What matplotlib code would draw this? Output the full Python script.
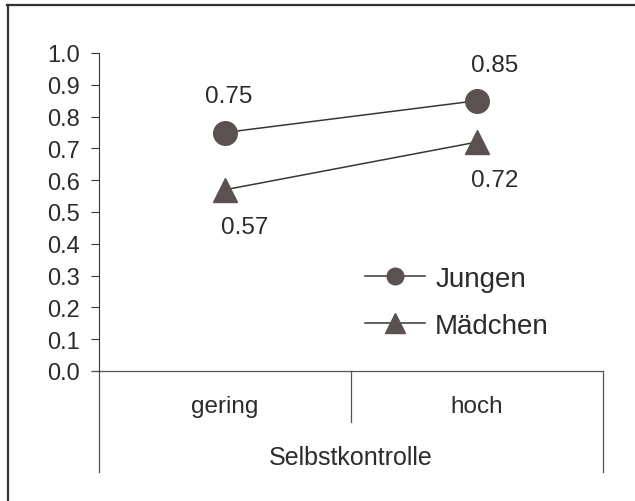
import matplotlib.pyplot as plt
from matplotlib.lines import Line2D

# data
categories = ['gering', 'hoch']
axis_title = 'Selbstkontrolle'
jungen = [0.75, 0.85]
maedchen = [0.57, 0.72]
y_ticks = [0.0, 0.1, 0.2, 0.3, 0.4, 0.5, 0.6, 0.7, 0.8, 0.9, 1.0]

W, H = 635, 502
mark_color = '#595250'
line_color = '#3b3634'
text_color = '#2b2b2b'

plt.rcParams['font.family'] = ['Liberation Sans', 'DejaVu Sans']

fig = plt.figure(figsize=(W / 100, H / 100), dpi=100)

# plot area in pixel coords of the reference
x0, x1, y_top, y_bot = 99, 603, 54, 372
ax = fig.add_axes([x0 / W, 1 - y_bot / H, (x1 - x0) / W, (y_bot - y_top) / H])
ax.set_xlim(-0.5, 1.5)
ax.set_ylim(0, 1.0)

xs = list(range(len(categories)))
ax.plot(xs, jungen, color=line_color, lw=1.1, marker='o', ms=17,
        mfc=mark_color, mec=mark_color, label='Jungen', clip_on=False)
ax.plot(xs, maedchen, color=line_color, lw=1.1, marker='^', ms=17,
        mfc=mark_color, mec=mark_color, label='Mädchen', clip_on=False)

# value labels
lab_kw = dict(fontsize=17.5, color=text_color, ha='center', va='center')
ax.annotate(f'{jungen[0]:.2f}', (xs[0], jungen[0]), xytext=(3, 26), textcoords='offset points', **lab_kw)
ax.annotate(f'{jungen[1]:.2f}', (xs[1], jungen[1]), xytext=(13, 26), textcoords='offset points', **lab_kw)
ax.annotate(f'{maedchen[0]:.2f}', (xs[0], maedchen[0]), xytext=(14, -27), textcoords='offset points', **lab_kw)
ax.annotate(f'{maedchen[1]:.2f}', (xs[1], maedchen[1]), xytext=(13, -27), textcoords='offset points', **lab_kw)

# spines and ticks
for s in ['top', 'right', 'bottom']:
    ax.spines[s].set_visible(False)
ax.spines['left'].set_color(line_color)
ax.spines['left'].set_linewidth(0.8)
ax.set_yticks(y_ticks)
ax.set_yticklabels([f'{t:.1f}' for t in y_ticks])
ax.tick_params(axis='y', length=6, width=0.8, color=line_color, pad=8,
               labelsize=17, labelcolor=text_color)
ax.set_xticks([])

# category table below the plot (axes coords)
axis_kw = dict(color='#555555', lw=0.9, transform=ax.transAxes, clip_on=False)
ax.add_line(Line2D([-0.014, 1.0], [0, 0], **axis_kw))
ax.add_line(Line2D([0, 0], [0, -0.318], **axis_kw))
ax.add_line(Line2D([1, 1], [0, -0.318], **axis_kw))
ax.add_line(Line2D([0.5, 0.5], [0, -0.16], **axis_kw))
for i, c in enumerate(categories):
    ax.text(0.25 + 0.5 * i, -0.11, c, transform=ax.transAxes, ha='center', va='center',
            fontsize=17.5, color=text_color)
ax.text(0.5, -0.27, axis_title, transform=ax.transAxes, ha='center', va='center',
        fontsize=18, color=text_color)

# legend
leg = ax.legend(loc='center left', bbox_to_anchor=(0.528, 0.215), frameon=False,
                fontsize=20, handlelength=2.16, handletextpad=0.36,
                labelspacing=0.75, borderpad=0, borderaxespad=0,
                labelcolor=text_color)
# legend markers: circle a bit smaller, triangle bigger than the default scale
leg.legend_handles[0].set_markersize(12)
leg.legend_handles[1].set_markersize(15)

# outer frame (only top and left edges are inside the picture)
frame_kw = dict(color='#333333', lw=1.6, transform=fig.transFigure)
fig.add_artist(Line2D([7 / W, 1.0], [1 - 6 / H, 1 - 6 / H], **frame_kw))
fig.add_artist(Line2D([8 / W, 8 / W], [0, 1 - 6 / H], **frame_kw))

fig.savefig('out.png', dpi=100)
